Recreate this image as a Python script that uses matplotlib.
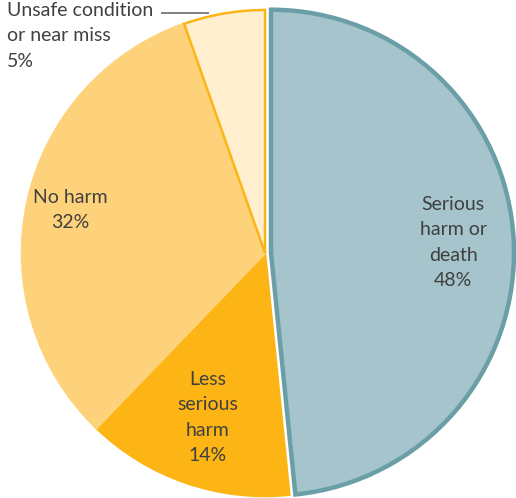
import matplotlib
matplotlib.use("Agg")
import matplotlib.pyplot as plt
import numpy as np

labels = ["Serious\nharm or\ndeath", "Less\nserious\nharm", "No harm", "Unsafe condition\nor near miss"]
values = [48.4, 13.8, 32.4, 5.4]
pct_labels = ["48%", "14%", "32%", "5%"]
colors = ["#A5C4CB", "#FDB515", "#FDD27A", "#FFEFCF"]
edges = ["#6A9FA8", "#FDB515", "#FDD27A", "#FDB515"]
explode_px = [6, 0, 0, 0]
label_r = [0.75, 0.72, 0.82, None]

plt.rcParams['font.family'] = ['Lato', 'DejaVu Sans']
W, H = 516, 498
fig = plt.figure(figsize=(W / 100, H / 100), dpi=100)
ax = fig.add_axes([0, 0, 1, 1])

cx, cy, R = 265, 245, 243
wedges, _ = ax.pie(values, colors=colors, startangle=90, counterclock=False,
                   explode=explode_px, center=(cx, cy), radius=R, frame=True)
for w, ec in zip(wedges, edges):
    w.set_edgecolor(ec)
    w.set_linewidth(3.2 if ec == "#6A9FA8" else 1.8)
    w.set_joinstyle('miter')
# keep the boundary between no-harm and unsafe visible
wedges[3].set_zorder(wedges[2].get_zorder() + 0.5)
ax.set_xlim(0, W)
ax.set_ylim(0, H)
ax.set_aspect('equal')
ax.axis('off')

txtcol = "#404040"
for w, lab, pct, lr in zip(wedges, labels, pct_labels, label_r):
    if lr is None:
        continue
    ang = np.deg2rad((w.theta1 + w.theta2) / 2)
    x0, y0 = w.center
    ax.text(x0 + lr * R * np.cos(ang), y0 + lr * R * np.sin(ang) + 1, lab + "\n" + pct,
            ha='center', va='center', fontsize=14, color=txtcol, linespacing=1.6)

# outside label for the small slice
ax.text(7, H - 2, labels[3] + "\n" + pct_labels[3], ha='left', va='top',
        fontsize=14, color=txtcol, linespacing=1.6)
ax.plot([162, 208], [H - 13, H - 13], color="#808080", lw=1.4)

fig.savefig("out.png", dpi=100)
